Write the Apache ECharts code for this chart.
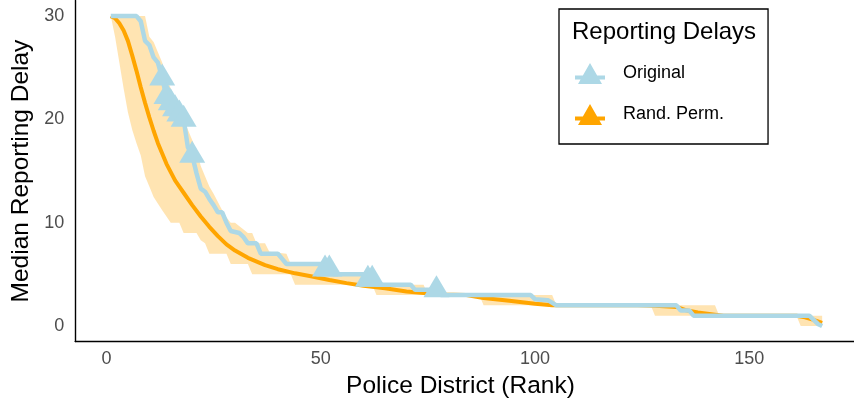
<!DOCTYPE html>
<html>
<head>
<meta charset="utf-8">
<script src="https://cdn.jsdelivr.net/npm/echarts@6/dist/echarts.min.js"></script>
<style>
  html, body { margin: 0; padding: 0; background: #fff; }
  #chart { width: 854px; height: 404px; }
</style>
</head>
<body>
<div id="chart"></div>
<script>
// Observed median reporting delay by district rank (breakpoints of the line)
const originalRank  = [1,7,8,9,10,11,12,13,14,15,16,17,18,19,20,21,22,23,24,25,26,27,28,29,31,32,33,35,36,40,41,42,50,51,52,53,60,61,62,63,71,72,77,78,99,100,103,105,133,134,136,137,164,166,167];
const originalDelay = [30,30,29.5,27.6,27.2,26,25.5,24,22.2,21.6,21,20.5,20,17.3,16.5,14.8,13.3,13,12.3,11.7,11,11,10,9.2,9,8.6,8,8,7,7,6.5,6,6,5.5,5.5,5,5,4.5,4.5,4,4,3.5,3.5,3,3,2.6,2.5,2,2,1.5,1.5,1,1,0.2,0];
// Ranks flagged with a triangle marker
const markedRanks = [13,14,15,16,17,18,20,51,52,61,62,77];

// Mean over random permutations
const permRank  = [1,2,3,4,5,6,7,8,9,10,11,12,13,14,15,16,17,18,20,22,24,26,28,30,33,37,40,44,48,52,56,60,65,70,74,78,84,88,94,100,104,124,128,133,135,138,142,144,161,163,165,167];
const permDelay = [30,29.8,29.3,28.6,27.6,26.2,24.7,23.1,21.6,20.2,18.9,17.7,16.7,15.7,14.9,14.1,13.5,12.9,11.7,10.6,9.6,8.7,7.9,7.3,6.6,5.9,5.5,5.1,4.8,4.45,4.15,3.9,3.65,3.35,3.2,3.05,3.0,2.7,2.45,2.15,2,2,1.95,1.85,1.55,1.3,1.1,1,1,0.85,0.6,0.3];

// Permutation band: upper and lower bounds
const bandUpperRank = [1,9,10,11,12,13,14,15,16,17,18,19,20,21,22,23,24,25,26,27,28,29,30,33,34,35,37,38,42,43,52,53,61,62,63,74,75,104,105,142,143,167];
const bandUpper     = [30,30,28,27.5,26.5,25.5,24,23,22,21,20,19,18,17,15.5,14.5,13.5,12.8,12,11.2,10.5,10,10,9,9,8,8,7.2,7,6,6,5,5,4.5,4,4,3,3,2,2,1,1];
const bandLowerRank = [1,2,3,4,5,6,7,8,9,10,11,13,15,17,18,21,22,23,24,28,29,33,34,43,44,62,63,87,88,127,128,161,162,167];
const bandLower     = [30,28,25.5,23,20.7,19,17.7,16.5,14.5,13.5,12.5,11.2,10,10,9,9,8.3,8,7,7,6,6,5,5,4,4,3,3,2,2,1,1,0,0];

const xTicks = [0, 50, 100, 150];
const yTicks = [0, 10, 20, 30];

const BLUE = '#ADD8E6';
const ORANGE = '#FFA500';
const FONT = '"Liberation Sans", Arial, sans-serif';
const legendIcon = 'path://M0,12.5L30,12.5L30,16.5L0,16.5Z M15,0L27,21L3,21Z';

const chart = echarts.init(document.getElementById('chart'), null, { renderer: 'canvas' });

const bandData = bandUpperRank.map((r, i) => [r, bandUpper[i]]);
const originalData = originalRank.map((r, i) => ({
  value: [r, originalDelay[i]],
  symbol: markedRanks.indexOf(r) >= 0 ? 'triangle' : 'none'
}));
const permData = permRank.map((r, i) => [r, permDelay[i]]);

chart.setOption({
  animation: false,
  backgroundColor: '#fff',
  textStyle: { fontFamily: FONT },
  grid: { left: 75.2, right: -3.7, top: 0.6, bottom: 62.5, outerBoundsMode: 'none' },
  title: {
    text: 'Reporting Delays',
    left: 572, top: 20, padding: 0,
    textStyle: { fontFamily: FONT, fontSize: 24, fontWeight: 'normal', color: '#000' }
  },
  legend: {
    orient: 'vertical',
    left: 559, top: 9,
    padding: [54, 44, 19, 16],
    itemWidth: 30, itemHeight: 21, itemGap: 20,
    borderColor: '#000', borderWidth: 1.3, borderRadius: 0,
    textStyle: { fontFamily: FONT, fontSize: 18, color: '#000', padding: [0, 0, 0, 13] },
    data: [
      { name: 'Original', icon: legendIcon },
      { name: 'Rand. Perm.', icon: legendIcon }
    ]
  },
  xAxis: {
    type: 'value', min: -7.3, max: 175.3,
    name: 'Police District (Rank)', nameLocation: 'middle', nameGap: 28,
    nameTextStyle: { fontFamily: FONT, fontSize: 24.5, color: '#000', padding: [0, 12, 0, 0] },
    axisLine: { show: true, onZero: false, lineStyle: { color: '#000', width: 1.4 } },
    axisTick: { show: false },
    splitLine: { show: false },
    axisLabel: { customValues: xTicks, margin: 9, fontSize: 18, color: '#4D4D4D', fontFamily: FONT }
  },
  yAxis: {
    type: 'value', min: -1.5, max: 31.5,
    name: 'Median Reporting Delay', nameLocation: 'middle', nameGap: 40, nameRotate: 90,
    nameTextStyle: { fontFamily: FONT, fontSize: 24.5, color: '#000' },
    axisLine: { show: true, onZero: false, lineStyle: { color: '#000', width: 1.4 } },
    axisTick: { show: false },
    splitLine: { show: false },
    axisLabel: { customValues: yTicks, margin: 11, fontSize: 18, color: '#4D4D4D', fontFamily: FONT }
  },
  series: [
    {
      // Permutation band drawn as one polygon through the axis scales
      name: 'Rand. Perm.',
      type: 'custom',
      silent: true,
      z: 1,
      data: bandData,
      encode: { x: 0, y: 1 },
      renderItem: function (params, api) {
        if (params.dataIndex !== 0) return null;
        const pts = [];
        for (let i = 0; i < bandUpperRank.length; i++) pts.push(api.coord([bandUpperRank[i], bandUpper[i]]));
        for (let i = bandLowerRank.length - 1; i >= 0; i--) pts.push(api.coord([bandLowerRank[i], bandLower[i]]));
        return {
          type: 'polygon',
          shape: { points: pts },
          style: { fill: 'rgba(255,165,0,0.3)', stroke: null }
        };
      },
      itemStyle: { color: ORANGE }
    },
    {
      name: 'Rand. Perm.',
      type: 'line',
      z: 2,
      data: permData,
      showSymbol: false,
      symbol: 'none',
      color: ORANGE,
      lineStyle: { color: ORANGE, width: 4 },
      itemStyle: { color: ORANGE }
    },
    {
      name: 'Original',
      type: 'line',
      z: 3,
      data: originalData,
      symbol: 'triangle',
      symbolSize: [26, 22],
      symbolOffset: [0, -3.7],
      showAllSymbol: true,
      color: BLUE,
      lineStyle: { color: BLUE, width: 4.5 },
      itemStyle: { color: BLUE, opacity: 1 }
    }
  ]
});
</script>
</body>
</html>
